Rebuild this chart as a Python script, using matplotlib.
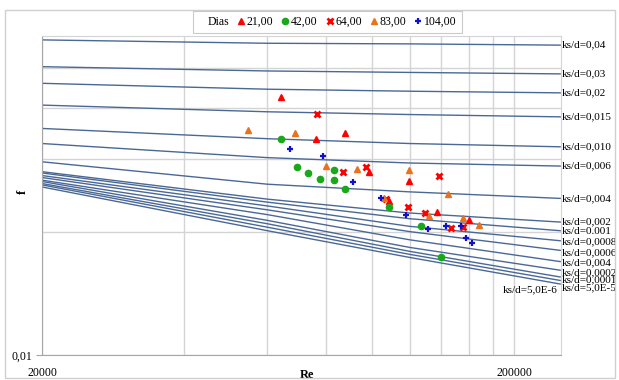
import numpy as np
import matplotlib
matplotlib.use("Agg")
import matplotlib.pyplot as plt
from matplotlib.lines import Line2D
from matplotlib.patches import Rectangle
from matplotlib.ticker import FixedLocator, NullFormatter

plt.rcParams["font.family"] = ["Liberation Serif", "DejaVu Serif"]

# Reynolds numbers where the roughness curves were read
re_grid = [20000, 60000, 120000, 250000]

ks_labels = ["ks/d=0,04", "ks/d=0,03", "ks/d=0,02", "ks/d=0,015", "ks/d=0,010",
             "ks/d=0,006", "ks/d=0,004", "ks/d=0,002", "ks/d=0.001", "ks/d=0,0008",
             "ks/d=0,0006", "ks/d=0,004", "ks/d=0,0002", "ks/d=0,0001",
             "ks/d=5,0E-5", "ks/d=5,0E-6"]
f_curves = [
    [0.0587, 0.0576, 0.0574, 0.0570],
    [0.0505, 0.0493, 0.0489, 0.0485],
    [0.0460, 0.0445, 0.0440, 0.0436],
    [0.0407, 0.0392, 0.0386, 0.0381],
    [0.0357, 0.0337, 0.0328, 0.0322],
    [0.0328, 0.0303, 0.0294, 0.0289],
    [0.0296, 0.0261, 0.0250, 0.0241],
    [0.0280, 0.0240, 0.0222, 0.0211],
    [0.0278, 0.0236, 0.0215, 0.0201],
    [0.0274, 0.0231, 0.0206, 0.0190],
    [0.0271, 0.0226, 0.0200, 0.0180],
    [0.0267, 0.0220, 0.0191, 0.0169],
    [0.0265, 0.0213, 0.0183, 0.0161],
    [0.0262, 0.0209, 0.0179, 0.0155],
    [0.0260, 0.0205, 0.0176, 0.0152],
    [0.0257, 0.0201, 0.0173, 0.0149],
]

# measured points per age (days)
re_21 = [64100, 75900, 87600, 98300, 119900, 108300, 137200, 160100]
f_21 = [0.0425, 0.0336, 0.0347, 0.0280, 0.0265, 0.0237, 0.0223, 0.0213]

re_42 = [64100, 69400, 73300, 77400, 83100, 83100, 87400, 108700, 126600, 139600]
f_42 = [0.0336, 0.0287, 0.0278, 0.0269, 0.0283, 0.0267, 0.0254, 0.0229, 0.0206, 0.0173]

re_64 = [76400, 86600, 97200, 138700, 107000, 119300, 129400, 146800, 155700]
f_64 = [0.0388, 0.0280, 0.0287, 0.0274, 0.0240, 0.0230, 0.0222, 0.0204, 0.0205]

re_83 = [54500, 68500, 80000, 92700, 119400, 144900, 105700, 132100, 155700, 168400]
f_83 = [0.0353, 0.0347, 0.0289, 0.0285, 0.0283, 0.0247, 0.0241, 0.0218, 0.0216, 0.0208]

re_104 = [67000, 78500, 91200, 104200, 117700, 131000, 143600, 154200, 158300, 162400]
f_104 = [0.0318, 0.0305, 0.0264, 0.0242, 0.0220, 0.0203, 0.0206, 0.0206, 0.0193, 0.0188]

fig = plt.figure(figsize=(6.19, 3.80), dpi=100)
ax = fig.add_axes([42 / 619, 25 / 380, 519 / 619, 319 / 380])

line_col = "#4a6896"
for lab, fv in zip(ks_labels, f_curves):
    ax.plot(re_grid, fv, color=line_col, lw=1.0, zorder=2)

# label offsets (points) for the crowded bundle at the right edge
dy = [0, 0, 0, 0, 0, 0, 0, 0, -0.7, -0.7, -2.0, -0.7, -2.2, -2.0, -5.5, -4.5]
for i, (lab, fv) in enumerate(zip(ks_labels, f_curves)):
    if lab == "ks/d=5,0E-6":
        ax.annotate(lab, xy=(re_grid[-1], fv[-1]), xytext=(-2, dy[i]),
                    textcoords="offset points", ha="right", va="center",
                    fontsize=8, annotation_clip=False)
    else:
        ax.annotate(lab, xy=(re_grid[-1], fv[-1]), xytext=(1, dy[i]),
                    textcoords="offset points", ha="left", va="center",
                    fontsize=8, annotation_clip=False)

ax.plot(re_21, f_21, ls="none", marker="^", ms=4, color="#ff0000", zorder=4)
ax.plot(re_42, f_42, ls="none", marker="o", ms=4.5, color="#1aa81a", zorder=4)
ax.plot(re_64, f_64, ls="none", marker="x", ms=5, mew=2, color="#ff0000", zorder=4)
ax.plot(re_83, f_83, ls="none", marker="^", ms=4, color="#e8731e", zorder=4)
ax.plot(re_104, f_104, ls="none", marker="+", ms=5, mew=1.6, color="#1010cc", zorder=4)

ax.set_xscale("log")
ax.set_yscale("log")
ax.set_xlim(20000, 251000)
ax.set_ylim(0.01, 0.06)

ax.xaxis.set_major_locator(FixedLocator([20000, 200000]))
ax.xaxis.set_minor_locator(FixedLocator(np.arange(40000, 181000, 20000)))
ax.set_xticklabels(["20000", "200000"], fontsize=8.5)
ax.xaxis.set_minor_formatter(NullFormatter())
ax.yaxis.set_major_locator(FixedLocator([0.01]))
ax.yaxis.set_minor_locator(FixedLocator([0.02, 0.03, 0.04, 0.05]))
ax.set_yticklabels(["0,01"], fontsize=8.5)
ax.yaxis.set_minor_formatter(NullFormatter())
ax.tick_params(which="major", axis="x", length=0, pad=9)
ax.tick_params(which="major", axis="y", length=4, color="#a6a6a6", pad=3)
ax.tick_params(which="minor", length=0)

ax.grid(which="both", color="#d4d4d4", lw=1.0, zorder=0)
ax.set_axisbelow(True)
for s in ["top", "right"]:
    ax.spines[s].set_color("#d4d4d4")
for s in ["left", "bottom"]:
    ax.spines[s].set_color("#a6a6a6")

ax.set_xlabel("Re", fontsize=9, fontweight="bold")
ax.xaxis.set_label_coords(0.51, -0.045)
ax.set_ylabel("f", fontsize=9, fontweight="bold")
ax.yaxis.set_label_coords(-0.025, 0.51)

handles = [
    Line2D([], [], ls="none", marker=""),
    Line2D([], [], ls="none", marker="^", ms=4, color="#ff0000"),
    Line2D([], [], ls="none", marker="o", ms=4.5, color="#1aa81a"),
    Line2D([], [], ls="none", marker="x", ms=5, mew=2, color="#ff0000"),
    Line2D([], [], ls="none", marker="^", ms=4, color="#e8731e"),
    Line2D([], [], ls="none", marker="+", ms=5, mew=1.6, color="#1010cc"),
]
labels = ["Dias", "21,00", "42,00", "64,00", "83,00", "104,00"]
leg = fig.legend(handles, labels, loc="center", bbox_to_anchor=(0.529, 0.942),
                 ncol=6, fontsize=8.5, frameon=True, fancybox=False,
                 edgecolor="#bdbdbd", handlelength=0.6, handletextpad=0.2,
                 columnspacing=0.7, borderpad=0.4)
leg.get_frame().set_linewidth(0.8)

fig.patches.append(Rectangle((0.008, 0.005), 0.985, 0.97, transform=fig.transFigure,
                             fill=False, ec="#d0d0d0", lw=1.0))

plt.savefig("out.png", dpi=100)
plt.close()
